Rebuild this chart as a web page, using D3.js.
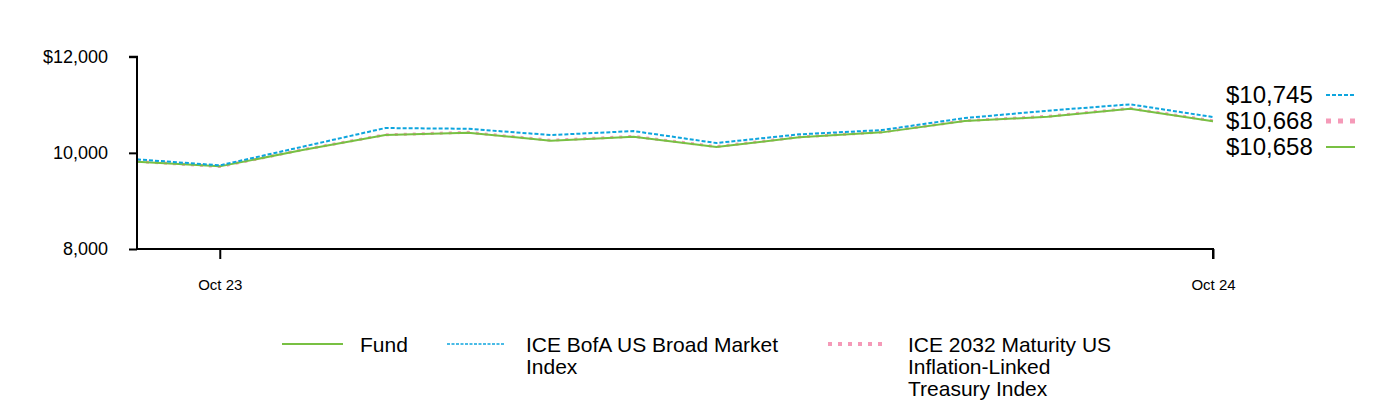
<!DOCTYPE html>
<html>
<head>
<meta charset="utf-8">
<script src="https://cdn.jsdelivr.net/npm/d3@7"></script>
<style>
  body { margin: 0; background: #fff; }
  svg { font-family: "Liberation Sans", Arial, sans-serif; }
</style>
</head>
<body>
<div id="chart"></div>
<script>
const months = ["Sep 23", "Oct 23", "Nov 23", "Dec 23", "Jan 24", "Feb 24", "Mar 24",
  "Apr 24", "May 24", "Jun 24", "Jul 24", "Aug 24", "Sep 24", "Oct 24"];
const fund = [9815, 9719, 10058, 10370, 10418, 10252, 10335, 10121, 10322, 10426, 10661, 10751, 10918, 10658];
const broad = [9865, 9740, 10127, 10516, 10501, 10370, 10453, 10204, 10385, 10474, 10724, 10876, 11009, 10745];
const tips = [9822, 9714, 10066, 10376, 10426, 10262, 10343, 10130, 10331, 10433, 10668, 10759, 10926, 10668];
const xTicks = ["Oct 23", "Oct 24"];
const yTicks = [8000, 10000, 12000];

const series = [
  { name: "ICE 2032 Maturity US Inflation-Linked Treasury Index", values: tips, color: "#f59ab8", width: 3, dash: "3,6" },
  { name: "Fund", values: fund, color: "#78c043", width: 2, dash: null },
  { name: "ICE BofA US Broad Market Index", values: broad, color: "#0ea5de", width: 2, dash: "4,2" }
];

const w = 1396;
const h = 412;

const x = d3.scalePoint().domain(months).range([137, 1213]);
const y = d3.scaleLinear().domain([8000, 12000]).range([249, 56.7]);

const svg = d3.select("#chart")
  .append("svg")
  .attr("width", w)
  .attr("height", h);

const line = d3.line()
  .x((d, i) => x(months[i]))
  .y((d) => y(d));

svg.selectAll("path.series")
  .data(series)
  .enter()
  .append("path")
  .attr("class", "series")
  .attr("fill", "none")
  .attr("stroke", (d) => d.color)
  .attr("stroke-width", (d) => d.width)
  .attr("stroke-dasharray", (d) => d.dash)
  .attr("d", (d) => line(d.values));

// axes
const yAxis = d3.axisLeft(y)
  .tickValues(yTicks)
  .tickSize(8)
  .tickPadding(21)
  .tickFormat((d) => (d === 12000 ? "$" : "") + d3.format(",")(d));

const gy = svg.append("g")
  .attr("transform", "translate(137,0)")
  .call(yAxis);
gy.select(".domain").attr("stroke-width", 2).attr("d", `M-8,${y(12000)}H0V${y(8000)}`);
gy.selectAll(".tick line").attr("stroke-width", 2);
gy.selectAll(".tick text").attr("font-size", 18).attr("fill", "#000")
  .attr("font-family", '"Liberation Sans", Arial, sans-serif');

const xAxis = d3.axisBottom(x)
  .tickValues(xTicks)
  .tickSize(10)
  .tickPadding(20);

const gx = svg.append("g")
  .attr("transform", `translate(0,${y(8000)})`)
  .call(xAxis);
gx.select(".domain").attr("stroke-width", 2).attr("d", `M137,0H1213V10`);
gx.selectAll(".tick line").attr("stroke-width", 2);
gx.selectAll(".tick text").attr("font-size", 15).attr("fill", "#000")
  .attr("font-family", '"Liberation Sans", Arial, sans-serif');

// end value labels
const ends = [
  { label: "$10,745", s: series[2], cy: 95 },
  { label: "$10,668", s: series[0], cy: 121 },
  { label: "$10,658", s: series[1], cy: 147 }
];
const eg = svg.append("g");
ends.forEach((e) => {
  eg.append("text")
    .attr("x", 1226)
    .attr("y", e.cy)
    .attr("dy", "0.35em")
    .attr("font-size", 24)
    .text(e.label);
  eg.append("line")
    .attr("x1", 1326).attr("x2", 1355)
    .attr("y1", e.cy).attr("y2", e.cy)
    .attr("stroke", e.s.color)
    .attr("stroke-width", e.s.dash === "3,6" ? 5 : 2)
    .attr("stroke-dasharray", e.s.dash === "3,6" ? "5,7" : e.s.dash);
});

// legend
const legend = [
  { s: series[1], lx: 282, lw: 61, tx: 360, lines: ["Fund"] },
  { s: series[2], lx: 447, lw: 58, tx: 526, lines: ["ICE BofA US Broad Market", "Index"] },
  { s: series[0], lx: 828, lw: 54, tx: 908, lines: ["ICE 2032 Maturity US", "Inflation-Linked", "Treasury Index"] }
];
const lg = svg.append("g");
legend.forEach((l) => {
  lg.append("line")
    .attr("x1", l.lx).attr("x2", l.lx + l.lw)
    .attr("y1", 344).attr("y2", 344)
    .attr("stroke", l.s.color)
    .attr("stroke-width", l.s.dash === "3,6" ? 4 : (l.s.dash ? 1.5 : 2))
    .attr("stroke-dasharray", l.s.dash === "3,6" ? "4,6" : (l.s.dash ? "3,1.5" : null));
  const t = lg.append("text").attr("x", l.tx).attr("y", 352).attr("font-size", 21);
  l.lines.forEach((s, i) => {
    t.append("tspan").attr("x", l.tx).attr("dy", i === 0 ? 0 : 22).text(s);
  });
});
</script>
</body>
</html>
